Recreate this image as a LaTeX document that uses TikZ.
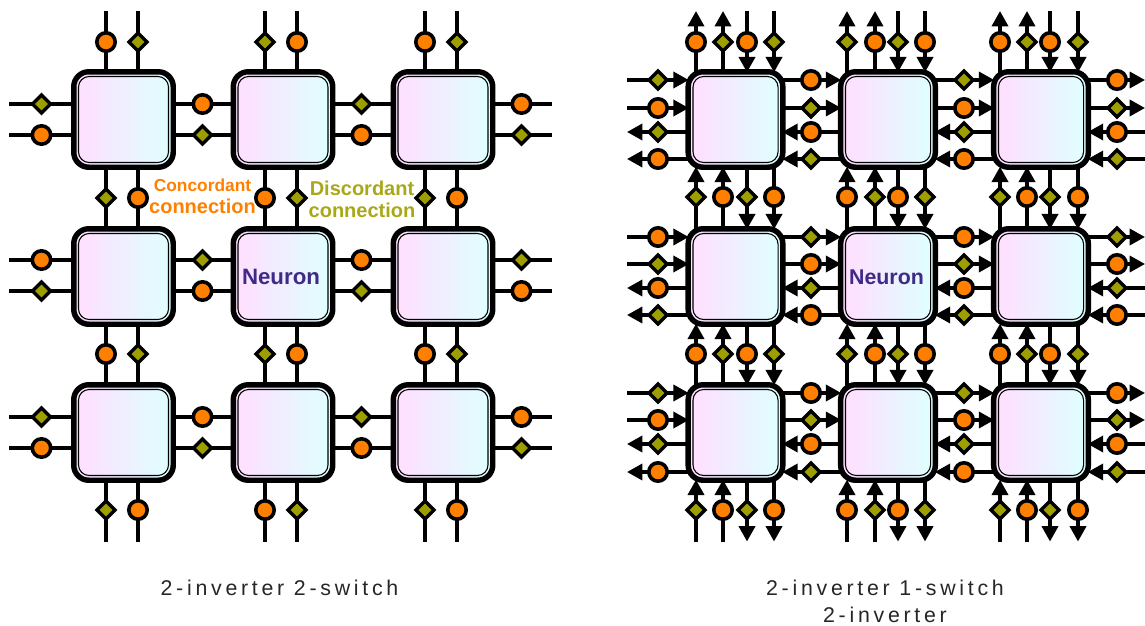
\documentclass[tikz,border=0pt]{standalone}
\usepackage{fontspec}
\setmainfont{Liberation Sans}
\newfontfamily\capfont[LetterSpace=17.5]{Liberation Sans}
\usetikzlibrary{arrows.meta,shapes.geometric}
\definecolor{neuronpink}{HTML}{FFDFFF}
\definecolor{neuroncyan}{HTML}{DFFFFF}
\definecolor{concordcolor}{HTML}{FF7F00}
\definecolor{discordcolor}{HTML}{9E9E00}
\definecolor{neuronfont}{HTML}{3F2A86}
\pgfdeclarelayer{back}
\pgfsetlayers{back,main}
\tikzset{
  neuron/.style={
    rectangle, rounded corners=11.25pt, draw=black, line width=4.1pt,
    left color=neuronpink, right color=neuroncyan,
    inner sep=0pt, minimum width=#1, minimum height=71.6pt
  },
  core/.style={
    rectangle, rounded corners=8pt, draw=black, line width=.8pt,
    left color=neuronpink, right color=neuroncyan,
    inner sep=0pt, minimum width=#1, minimum height=64.5pt
  },
  rail/.style={inner sep=0pt, outer sep=0pt, minimum size=0pt},
  concordant/.style={
    circle, draw=black, fill=concordcolor, line width=2.7pt,
    inner sep=0pt, minimum size=13.8pt
  },
  discordant/.style={
    diamond, aspect=1, draw=black, fill=discordcolor, line width=2.6pt,
    inner sep=0pt, minimum size=14.6pt
  },
  wire/.style={draw=black, line width=2.8pt},
  tip end/.style={->, shorten >=-2.5pt},
  tip start/.style={<-, shorten <=-2.5pt},
  caption/.style={text=black!85, font=\capfont\fontsize{16}{20.25}\selectfont, align=center}
}
% vertical link: panel, level, column, index, x, y, arrow, start prefix, end prefix
\newcommand{\vlink}[9]{%
  \pgfmathtruncatemacro{\lnext}{#2+1}%
  \pgfmathtruncatemacro{\kind}{mod(#2+#3+#4,2)}%
  \ifnum\kind=0 \def\linkstyle{concordant}\else\def\linkstyle{discordant}\fi
  \node[\linkstyle] (#1v#2#3#4) at (#5,#6) {};
  \begin{pgfonlayer}{back}
    \draw[wire,#7] (#8#3#2.south -| #1v#2#3#4) -- (#9#3\lnext.north -| #1v#2#3#4);
  \end{pgfonlayer}}
% horizontal link: panel, row, gap, index, x, y, arrow, start prefix, end prefix
\newcommand{\hlink}[9]{%
  \pgfmathtruncatemacro{\gnext}{#3+1}%
  \pgfmathtruncatemacro{\kind}{mod(#2+#3+#4+1,2)}%
  \ifnum\kind=0 \def\linkstyle{concordant}\else\def\linkstyle{discordant}\fi
  \node[\linkstyle] (#1h#2#3#4) at (#5,#6) {};
  \begin{pgfonlayer}{back}
    \draw[wire,#7] (#8#3#2.east |- #1h#2#3#4) -- (#9\gnext#2.west |- #1h#2#3#4);
  \end{pgfonlayer}}

\begin{document}
\begin{tikzpicture}[x=.75pt,y=-.75pt,>={Triangle[length=11.6pt,width=12pt]}]
  \useasboundingbox (0,0) rectangle (1145,625);

  % left panel
  \foreach \col/\xx in {1/123.5,2/283,3/443} {
    \foreach \row/\yy in {1/119.5,2/276.5,3/432.5} {
      \node[neuron=74.6pt] (L\col\row) at (\xx,\yy) {};
      \node[core=67.5pt] (Lc\col\row) at (L\col\row) {};
    }
    \node[rail] (Lc\col0) at (\xx,11) {};
    \node[rail] (Lc\col4) at (\xx,541.5) {};
  }
  \foreach \row/\yy in {1/119.5,2/276.5,3/432.5} {
    \node[rail] (Lc0\row) at (9,\yy) {};
    \node[rail] (Lc4\row) at (551.5,\yy) {};
  }
  \foreach \lvl/\yy in {0/42,1/198,2/354,3/510}
    \foreach \col/\xa/\xb in {1/106/138,2/265/297,3/425/457} {
      \vlink{L}{\lvl}{\col}{1}{\xa}{\yy}{-}{Lc}{Lc}
      \vlink{L}{\lvl}{\col}{2}{\xb}{\yy}{-}{Lc}{Lc}
    }
  \foreach \row/\ya/\yb in {1/104/135,2/260/291,3/417/448}
    \foreach \gap/\xx in {0/41.5,1/202.5,2/361.5,3/521.5} {
      \hlink{L}{\row}{\gap}{1}{\xx}{\ya}{-}{Lc}{Lc}
      \hlink{L}{\row}{\gap}{2}{\xx}{\yb}{-}{Lc}{Lc}
    }

  % right panel
  \foreach \col/\xx in {1/735.5,2/888,3/1041} {
    \foreach \row/\yy in {1/119.5,2/276.5,3/432.5} {
      \node[neuron=71pt] (R\col\row) at (\xx,\yy) {};
      \node[core=63.8pt] (Rc\col\row) at (R\col\row) {};
    }
    \node[rail] (R\col0) at (\xx,14.3) {};
    \node[rail] (Rc\col0) at (\xx,11) {};
    \node[rail] (R\col4) at (\xx,538.2) {};
    \node[rail] (Rc\col4) at (\xx,541.5) {};
  }
  \foreach \row/\yy in {1/119.5,2/276.5,3/432.5} {
    \node[rail] (R0\row) at (630.3,\yy) {};
    \node[rail] (Rc0\row) at (627,\yy) {};
    \node[rail] (R4\row) at (1141.7,\yy) {};
    \node[rail] (Rc4\row) at (1145,\yy) {};
  }
  \foreach \lvl/\yy in {0/42,1/197,2/354,3/510}
    \foreach \col/\xa/\xb/\xc/\xd in {1/696/723/747/774,2/847/875/898/925,3/1000/1027/1050/1078} {
      \vlink{R}{\lvl}{\col}{1}{\xa}{\yy}{tip start}{R}{Rc}
      \vlink{R}{\lvl}{\col}{2}{\xb}{\yy}{tip start}{R}{Rc}
      \vlink{R}{\lvl}{\col}{3}{\xc}{\yy}{tip end}{Rc}{R}
      \vlink{R}{\lvl}{\col}{4}{\xd}{\yy}{tip end}{Rc}{R}
    }
  \foreach \row/\ya/\yb/\yc/\yd in {1/80/108/132/159,2/237/264/288/315,3/393/420/444/472}
    \foreach \gap/\xx in {0/658,1/811,2/964,3/1117} {
      \hlink{R}{\row}{\gap}{1}{\xx}{\ya}{tip end}{Rc}{R}
      \hlink{R}{\row}{\gap}{2}{\xx}{\yb}{tip end}{Rc}{R}
      \hlink{R}{\row}{\gap}{3}{\xx}{\yc}{tip start}{R}{Rc}
      \hlink{R}{\row}{\gap}{4}{\xx}{\yd}{tip start}{R}{Rc}
    }

  % labels
  \node (concord_label) [text=concordcolor, align=center, inner sep=0pt, %
  font=\bfseries\fontsize{15}{16.5}\selectfont] at (202.5,196) {{\fontsize{13}{16.5}\selectfont Concordant}\\connection};
  \node (discord_label) [text=discordcolor!90!white, align=center, inner sep=0pt, %
  font=\bfseries\fontsize{15}{16.5}\selectfont] at (362,199) {Discordant\\connection};
  \node (neuron_left) [text=neuronfont, font=\bfseries\fontsize{16.7}{18}\selectfont] at (281,277) {Neuron};
  \node (neuron_right) [text=neuronfont, font=\bfseries\fontsize{16}{18}\selectfont] at (886.5,277) {Neuron};
  \node (caption_left) [caption,inner sep=0pt] at (279.5,588) {2-inverter 2-switch};
  \node (caption_right) [caption,inner sep=0pt] at (885,601) {2-inverter 1-switch\\2-inverter};
\end{tikzpicture}
\end{document}
